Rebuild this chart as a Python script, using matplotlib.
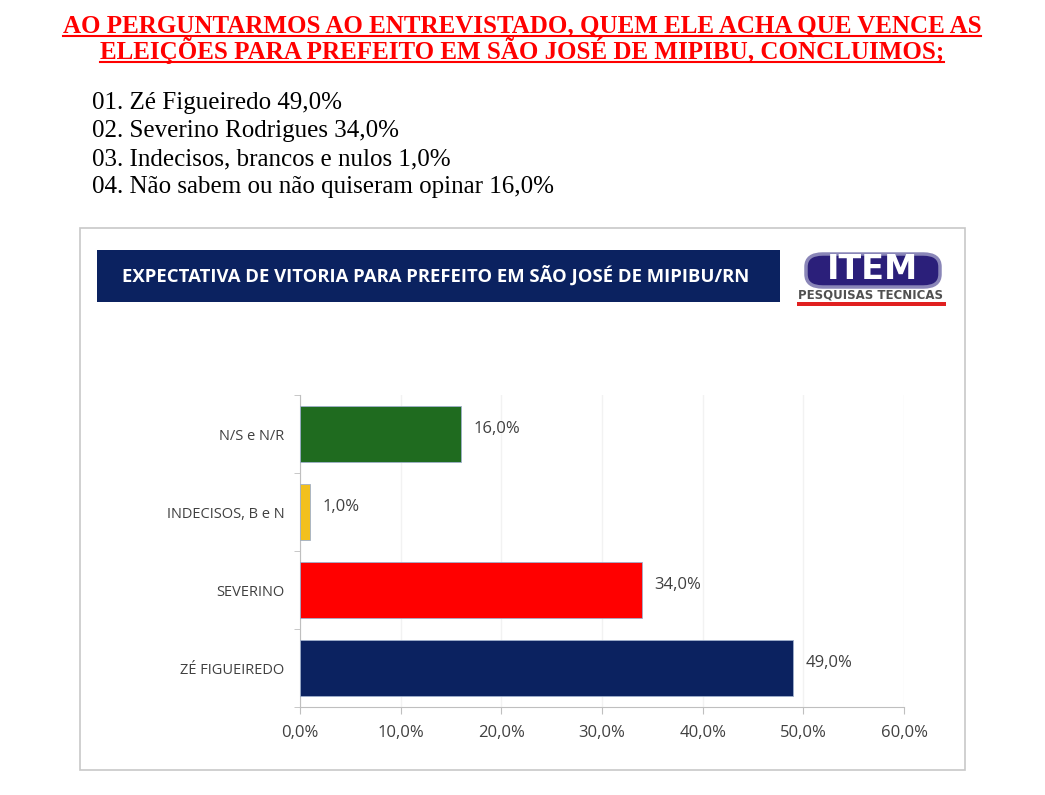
import matplotlib.pyplot as plt
from matplotlib.patches import Rectangle, FancyBboxPatch

categories = ['ZÉ FIGUEIREDO', 'SEVERINO', 'INDECISOS, B e N', 'N/S e N/R']
values = [49.0, 34.0, 1.0, 16.0]
bar_colors = ['#0b2260', '#ff0000', '#f2c01e', '#1f6b1f']
xticks = [0, 10, 20, 30, 40, 50, 60]

headline = ['AO PERGUNTARMOS AO ENTREVISTADO, QUEM ELE ACHA QUE VENCE AS',
            'ELEIÇÕES PARA PREFEITO EM SÃO JOSÉ DE MIPIBU, CONCLUIMOS;']
summary = ['01. Zé Figueiredo 49,0%',
           '02. Severino Rodrigues 34,0%',
           '03. Indecisos, brancos e nulos 1,0%',
           '04. Não sabem ou não quiseram opinar 16,0%']
chart_title = 'EXPECTATIVA DE VITORIA PARA PREFEITO EM SÃO JOSÉ DE MIPIBU/RN'

W, H = 1045, 795
fig = plt.figure(figsize=(W / 100, H / 100), dpi=100)


def fx(px):
    return px / W


def fy(py):
    return 1 - py / H


# headline, red bold underlined
heads = []
for i, line in enumerate(headline):
    heads.append(fig.text(fx(522), fy(33 + i * 26), line, color='#ff0000', fontsize=18,
                          fontweight='bold', family='Liberation Serif',
                          ha='center', va='baseline'))

# underline the headline lines, a little under the baseline
fig.canvas.draw()
r = fig.canvas.get_renderer()
for i, t in enumerate(heads):
    bb = t.get_window_extent(r)
    yl = fy(36 + i * 26)
    fig.add_artist(plt.Line2D([bb.x0 / W, bb.x1 / W], [yl, yl],
                              color='#ff0000', lw=1.5, transform=fig.transFigure))

for i, line in enumerate(summary):
    fig.text(fx(92), fy(103 + i * 28), line, fontsize=18, family='Liberation Serif',
             ha='left', va='center', color='black')

# chart frame
fig.add_artist(Rectangle((fx(80), fy(770)), fx(965) - fx(80), fy(228) - fy(770),
                         transform=fig.transFigure, facecolor='white',
                         edgecolor='#c8c8c8', lw=1.2, zorder=-2))

# title banner
fig.add_artist(Rectangle((fx(97), fy(302)), fx(780) - fx(97), fy(250) - fy(302),
                         transform=fig.transFigure, facecolor='#0b2260',
                         edgecolor='none'))
fig.text(fx(436), fy(276), chart_title, color='white', fontsize=13.3, fontweight='bold',
         family='Open Sans', ha='center', va='center')

# logo
fig.add_artist(FancyBboxPatch((fx(806), fy(287)), fx(940) - fx(806), fy(254) - fy(287),
                              boxstyle='round,pad=0,rounding_size=0.016',
                              transform=fig.transFigure, facecolor='#2b1f7a',
                              edgecolor='#8a86b8', lw=2.5))
fig.text(fx(873), fy(270), 'ITEM', color='white', fontsize=24, fontweight='heavy',
         family='DejaVu Sans', ha='center', va='center')
fig.text(fx(870), fy(295), 'PESQUISAS TECNICAS', color='#505050', fontsize=8.5,
         fontweight='bold', family='DejaVu Sans Condensed', ha='center', va='center')
fig.add_artist(Rectangle((fx(797), fy(306)), fx(946) - fx(797), 4 / H,
                         transform=fig.transFigure, facecolor='#e02020', edgecolor='none'))

# bar chart
ax = fig.add_axes([fx(300), fy(707), fx(904) - fx(300), fy(395) - fy(707)])
ax.set_zorder(5)
ax.patch.set_alpha(0)
ypos = list(range(len(categories)))
ax.barh(ypos, values, height=0.72, color=bar_colors, edgecolor='#9fb0cc', lw=0.6, zorder=3)
for y, v in zip(ypos, values):
    ax.text(v + 1.2, y + 0.06, f'{v:.1f}%'.replace('.', ','), fontsize=12,
            family='Open Sans', color='#404040', va='center', ha='left')

ax.set_xlim(0, 60)
ax.set_ylim(-0.5, len(categories) - 0.5)
ax.set_xticks(xticks)
ax.set_xticklabels([f'{x:.1f}%'.replace('.', ',') for x in xticks], fontsize=12,
                   family='Open Sans', color='#404040')
ax.set_yticks(ypos)
ax.set_yticklabels(categories, fontsize=10.5, family='Open Sans', color='#404040')
ax.set_yticks([y - 0.5 for y in range(len(categories) + 1)], minor=True)
ax.tick_params(axis='y', which='major', length=0, pad=11)
ax.tick_params(axis='y', which='minor', length=4, color='#bfbfbf')
ax.tick_params(axis='x', length=5, color='#bfbfbf', pad=8)
ax.grid(axis='x', color='#f2f2f2', lw=1, zorder=0)
for s in ['top', 'right']:
    ax.spines[s].set_visible(False)
for s in ['left', 'bottom']:
    ax.spines[s].set_color('#bfbfbf')

fig.savefig('out.png', dpi=100)
